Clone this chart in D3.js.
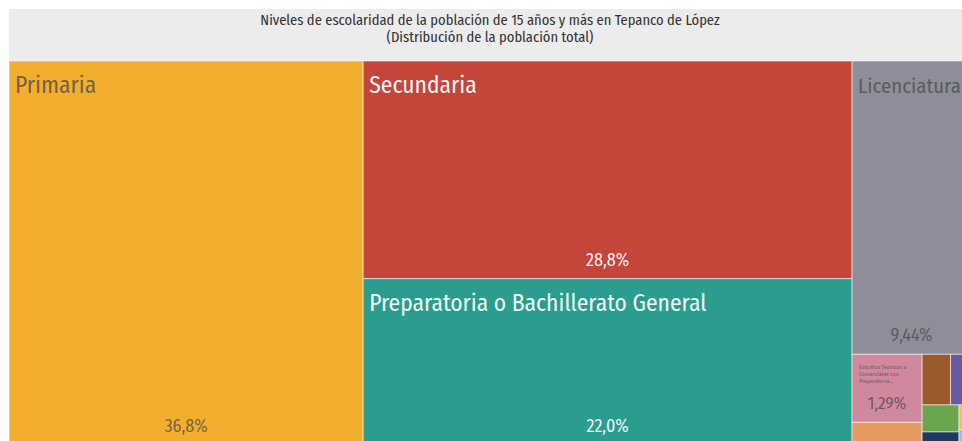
<!DOCTYPE html>
<html>
<head>
<meta charset="utf-8">
<script src="https://cdn.jsdelivr.net/npm/d3@7"></script>
<style>
  html, body { margin: 0; padding: 0; background: #ffffff; }
  svg { display: block; }
  .lbl { font-family: 'Fira Sans Condensed', 'Liberation Sans Narrow', 'DejaVu Sans Condensed', 'Roboto', sans-serif; font-stretch: condensed; }
</style>
</head>
<body>
<svg id="chart" width="962" height="441"></svg>
<script>
// ---- data ----
const titleLines = [
  "Niveles de escolaridad de la población de 15 años y más en Tepanco de López",
  "(Distribución de la población total)"
];
const categories = [
  "Primaria",
  "Secundaria",
  "Preparatoria o Bachillerato General",
  "Licenciatura",
  "Estudios Técnicos o Comerciales con Preparatoria Terminada",
  "Normal de Licenciatura",
  "Bachillerato Tecnológico",
  "Maestría",
  "Estudios Técnicos o Comerciales con Secundaria Terminada",
  "Preescolar",
  "Especialidad",
  "Doctorado"
];
const values = [36.8, 28.8, 22.0, 9.44, 1.29, 0.43, 0.39, 0.28, 0.27, 0.13, 0.08, 0.05];
const colors = ["#f4ae2e", "#c4463a", "#2a9d8f", "#8e8d9a", "#d0889f", "#e59a63",
                "#9a5a2c", "#6a5b9e", "#6aa64f", "#1f3a5f", "#e8c64a", "#8fc5e0"];

// ---- layout ----
const svg = d3.select("#chart");
const pageW = 962;
const ox = 9, oy = 9;            // chart origin (page is a crop of a wider chart)
const chartW = 962;              // full chart width (extends past right edge)
const titleH = 52;
const tmW = 962, tmH = 384;

svg.append("rect").attr("x", ox).attr("y", oy).attr("width", chartW).attr("height", titleH)
  .attr("fill", "#ececec");
const title = svg.append("text").attr("class", "lbl")
  .attr("x", ox + chartW / 2).attr("text-anchor", "middle")
  .attr("fill", "#333").attr("font-size", 14.5);
titleLines.forEach((t, i) => {
  title.append("tspan").attr("x", ox + chartW / 2).attr("y", oy + 16 + i * 17).text(t);
});

const root = d3.hierarchy({children: categories.map((c, i) => ({name: c, value: values[i], color: colors[i]}))})
  .sum(d => d.value || 0)
  .sort((a, b) => b.value - a.value);

d3.treemap()
  .tile(d3.treemapSquarify.ratio(1.5))
  .size([tmW, tmH])
  .round(false)(root);

const total = root.value;
const locale = d3.formatLocale({decimal: ",", thousands: ".", grouping: [3], currency: ["$", ""]});
const fmt = locale.format(".3r");

const g = svg.append("g").attr("transform", `translate(${ox},${oy + titleH})`);

function isDark(c) {
  const hs = d3.hsl(c);
  const rgb = d3.rgb(c);
  const lin = v => { v /= 255; return v <= 0.03928 ? v / 12.92 : Math.pow((v + 0.055) / 1.055, 2.4); };
  const L = 0.2126 * lin(rgb.r) + 0.7152 * lin(rgb.g) + 0.0722 * lin(rgb.b);
  return L > 0.3 || hs.s < 0.15;
}

const leaves = root.leaves();
const cell = g.selectAll("g.cell").data(leaves).join("g").attr("class", "cell")
  .attr("transform", d => `translate(${d.x0},${d.y0})`);

cell.append("clipPath").attr("id", (d, i) => "clip" + i)
  .append("rect").attr("width", d => d.x1 - d.x0).attr("height", d => d.y1 - d.y0);

cell.append("rect")
  .attr("width", d => d.x1 - d.x0).attr("height", d => d.y1 - d.y0)
  .attr("fill", d => d.data.color)
  .attr("stroke", "rgba(255,255,255,0.55)").attr("stroke-width", 1);

const labelled = cell.filter(d => (d.y1 - d.y0) > 40 && (d.x1 - d.x0) > 40)
  .append("g").attr("clip-path", (d) => "url(#clip" + leaves.indexOf(d) + ")");

labelled.each(function(d) {
  const el = d3.select(this);
  const w = d.x1 - d.x0, h = d.y1 - d.y0;
  const dark = isDark(d.data.color);
  const fill = dark ? "#4d4d4d" : "#ffffff";
  const op = dark ? 0.78 : 0.95;
  const big = w > 100;
  if (big) {
    const nameX = 6, baseSize = 23.5;
    const t = el.append("text").attr("class", "lbl")
      .attr("x", nameX).attr("y", 32)
      .attr("font-size", baseSize).attr("fill", fill).attr("fill-opacity", op)
      .text(d.data.name);
    // keep the label inside the visible page width
    const avail = Math.min(w, pageW - ox - d.x0) - nameX - 1;
    const len = t.node().getComputedTextLength();
    if (len > avail) t.attr("font-size", baseSize * avail / len);
  } else {
    // tiny wrapped name
    const words = d.data.name.split(" ");
    const lines = [];
    let cur = "";
    const maxChars = 19;
    words.forEach(wd => {
      if ((cur + " " + wd).trim().length > maxChars) { lines.push(cur.trim()); cur = wd; }
      else cur = (cur + " " + wd).trim();
    });
    if (cur) lines.push(cur);
    const shown = lines.slice(0, 3);
    if (lines.length > 3) shown[2] = shown[2] + "...";
    const t = el.append("text").attr("class", "lbl")
      .attr("font-size", 6).attr("fill", fill).attr("fill-opacity", op);
    shown.forEach((ln, i) => t.append("tspan").attr("x", 7).attr("y", 15 + i * 7).text(ln));
  }
  el.append("text").attr("class", "lbl")
    .attr("x", w / 2).attr("y", h - 13).attr("text-anchor", "middle")
    .attr("font-size", big ? 18 : 17).attr("fill", fill).attr("fill-opacity", op)
    .text(fmt(d.value / total * 100) + "%");
});
</script>
</body>
</html>
